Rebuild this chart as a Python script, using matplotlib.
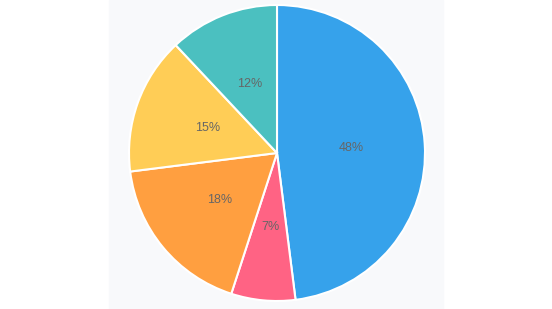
import matplotlib.pyplot as plt
from matplotlib.patches import Rectangle

shares = [48, 7, 18, 15, 12]
colors = ["#36A2EB", "#FF6384", "#FF9F40", "#FFCD56", "#4BC0C0"]

plt.rcParams["font.family"] = ["Liberation Sans", "DejaVu Sans"]

fig = plt.figure(figsize=(5.52, 3.09), dpi=100)
fig.add_artist(Rectangle((109 / 552, 0), 334 / 552, 1, transform=fig.transFigure,
                         color="#f8f9fb", zorder=0))

ax = fig.add_axes([0, 0, 1, 1])
ax.pie(shares, colors=colors, startangle=90, counterclock=False,
       radius=148, center=(277, 156), autopct="%d%%", pctdistance=0.5,
       wedgeprops=dict(edgecolor="white", linewidth=1.5),
       textprops=dict(color="#666666", fontsize=9))
ax.set_xlim(0, 552)
ax.set_ylim(0, 309)
ax.set_aspect("auto")
ax.axis("off")

fig.savefig("out.png", dpi=100)
